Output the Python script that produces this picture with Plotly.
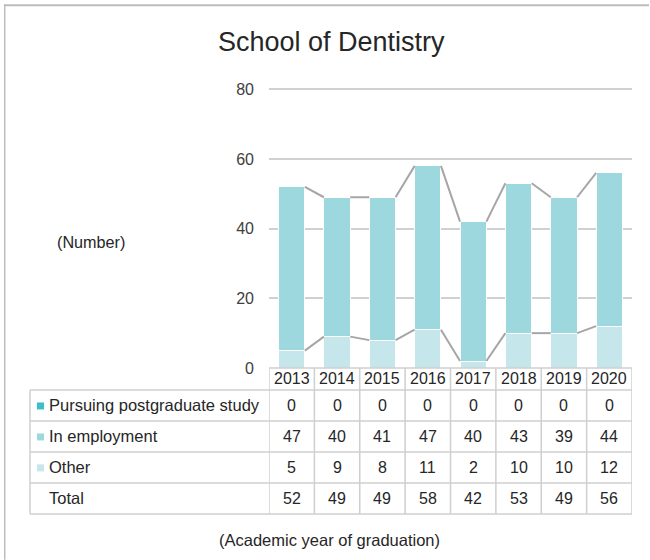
import plotly.graph_objects as go

years = ["2013", "2014", "2015", "2016", "2017", "2018", "2019", "2020"]
postgrad = [0, 0, 0, 0, 0, 0, 0, 0]
employment = [47, 40, 41, 47, 40, 43, 39, 44]
other = [5, 9, 8, 11, 2, 10, 10, 12]
totals = [52, 49, 49, 58, 42, 53, 49, 56]
series_names = ["Pursuing postgraduate study", "In employment", "Other"]
y_ticks = [0, 20, 40, 60, 80]

C_POST = "#3DBFC7"
C_EMP = "#9ED8DF"
C_OTH = "#C5E7EB"
GRID = "#D0D0D0"
TXT = "#262626"
FONT = "Liberation Sans"

W, H = 650, 560
YMAX = 81.5
PL, PR, PB = 269, 632, 368
PT = PB - (PB - 89) * YMAX / 80.0


def pxx(x):
    return (x - PL) / (PR - PL)


def pxy(y):
    return (PB - y) / (PB - PT)


n = len(years)
xs = list(range(n))
BW = 0.58

fig = go.Figure()
fig.add_bar(x=xs, y=other, name="Other", marker=dict(color=C_OTH, line=dict(color="white", width=1)), width=BW)
fig.add_bar(x=xs, y=employment, name="In employment", marker=dict(color=C_EMP, line=dict(color="white", width=1)), width=BW)
fig.add_bar(x=xs, y=postgrad, name="Pursuing postgraduate study", marker=dict(color=C_POST, line=dict(width=0)), width=BW)

# series lines connecting segment tops
cum1 = other
cum2 = [a + b + c for a, b, c in zip(other, employment, postgrad)]
for cum in (cum1, cum2):
    lx, ly = [], []
    for i in range(n - 1):
        lx += [i + BW / 2, i + 1 - BW / 2, None]
        ly += [cum[i], cum[i + 1], None]
    fig.add_scatter(x=lx, y=ly, mode="lines", line=dict(color="#A6A6A6", width=2), hoverinfo="skip")

shapes = []
ann = []
LC = "#CFCFCF"
LW = 1.5

# outer border (left and top visible)
BC = "#BDBDBD"
shapes.append(dict(type="rect", xref="paper", yref="paper", x0=pxx(4), x1=pxx(649), y0=pxy(6), y1=pxy(4),
                   fillcolor=BC, line=dict(width=0)))
shapes.append(dict(type="rect", xref="paper", yref="paper", x0=pxx(4), x1=pxx(5.5), y0=pxy(560), y1=pxy(4),
                   fillcolor=BC, line=dict(width=0)))

# table geometry
row_b = [368, 390, 421, 452, 483, 514]
TL = 30
shapes.append(dict(type="line", xref="paper", yref="paper", x0=pxx(PL), x1=pxx(PR), y0=pxy(row_b[0]), y1=pxy(row_b[0]), line=dict(color=LC, width=LW)))
for yb in row_b[1:]:
    shapes.append(dict(type="line", xref="paper", yref="paper", x0=pxx(TL), x1=pxx(PR), y0=pxy(yb), y1=pxy(yb), line=dict(color=LC, width=LW)))
for i in range(n + 1):
    shapes.append(dict(type="line", xref="x", yref="paper", x0=i - 0.5, x1=i - 0.5, y0=pxy(row_b[0]), y1=pxy(row_b[-1]), line=dict(color=LC, width=LW)))
shapes.append(dict(type="line", xref="paper", yref="paper", x0=pxx(TL), x1=pxx(TL), y0=pxy(row_b[1]), y1=pxy(row_b[-1]), line=dict(color=LC, width=LW)))

FS = 16.5
for i, yr in enumerate(years):
    ann.append(dict(x=i, xref="x", y=pxy((row_b[0] + row_b[1]) / 2), yref="paper", text=yr, showarrow=False,
                    font=dict(size=16, color=TXT, family=FONT), xanchor="center", yanchor="middle"))

rows = [(series_names[0], postgrad, C_POST), (series_names[1], employment, C_EMP), (series_names[2], other, C_OTH), ("Total", totals, None)]
for r, (label, vals, col) in enumerate(rows):
    ymid = (row_b[r + 1] + row_b[r + 2]) / 2
    if col:
        shapes.append(dict(type="rect", xref="paper", yref="paper", x0=pxx(37), x1=pxx(44), y0=pxy(ymid + 4), y1=pxy(ymid - 3),
                           fillcolor=col, line=dict(width=0)))
    ann.append(dict(x=pxx(47), xref="paper", y=pxy(ymid), yref="paper", text=label, showarrow=False,
                    font=dict(size=FS, color=TXT, family=FONT), xanchor="left", yanchor="middle"))
    for i, v in enumerate(vals):
        ann.append(dict(x=i, xref="x", y=pxy(ymid), yref="paper", text=str(v), showarrow=False,
                        font=dict(size=16, color=TXT, family=FONT), xanchor="center", yanchor="middle"))

ann.append(dict(x=pxx(331), xref="paper", y=pxy(42), yref="paper", text="School of Dentistry", showarrow=False,
                font=dict(size=27, color=TXT, family=FONT), xanchor="center", yanchor="middle"))
ann.append(dict(x=pxx(91), xref="paper", y=pxy(242), yref="paper", text="(Number)", showarrow=False,
                font=dict(size=16.2, color=TXT, family=FONT), xanchor="center", yanchor="middle"))
ann.append(dict(x=pxx(329), xref="paper", y=pxy(540), yref="paper", text="(Academic year of graduation)", showarrow=False,
                font=dict(size=16.5, color=TXT, family=FONT), xanchor="center", yanchor="middle"))

fig.update_layout(
    width=W, height=H, barmode="stack", showlegend=False,
    margin=dict(l=PL, r=W - PR, t=PT, b=H - PB, pad=0),
    paper_bgcolor="white", plot_bgcolor="white",
    font=dict(family=FONT, color=TXT),
    xaxis=dict(range=[-0.5, n - 0.5], showticklabels=False, showgrid=False, zeroline=False, showline=False, ticks=""),
    yaxis=dict(range=[0, YMAX], tickvals=y_ticks, showgrid=True, gridcolor=GRID, gridwidth=2, zeroline=False,
               showline=False, ticks="", ticklabelstandoff=14, tickfont=dict(size=16, color="#404040", family=FONT)),
    shapes=shapes, annotations=ann,
)

fig.write_html("out.html", config={"displayModeBar": False}, post_script="document.body.style.margin='0';")
